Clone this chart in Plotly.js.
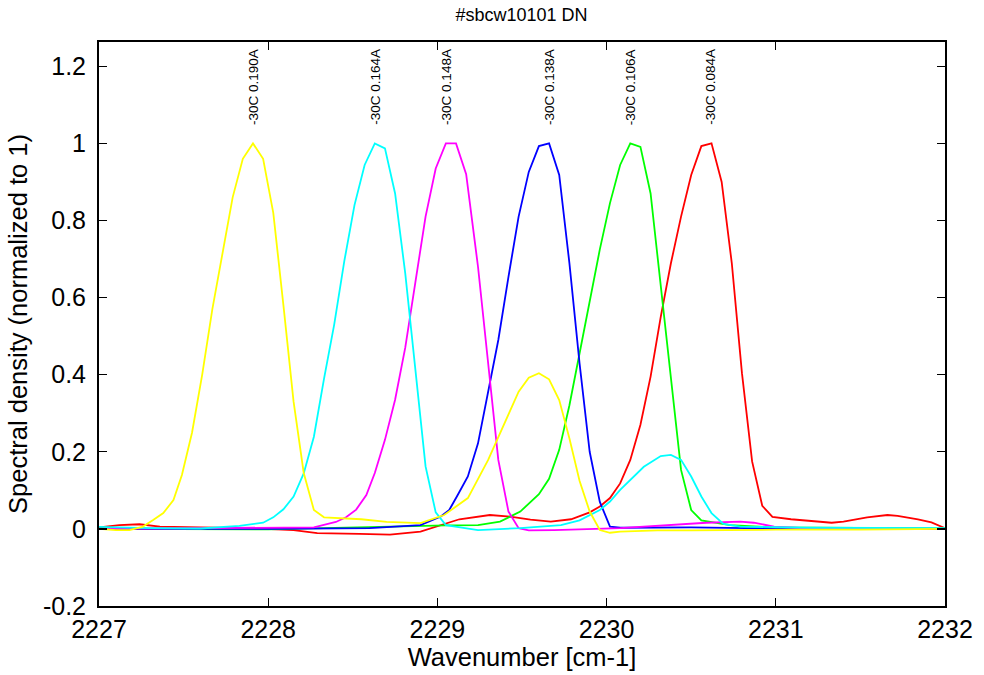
<!DOCTYPE html>
<html>
<head>
<meta charset="utf-8">
<script src="https://cdn.plot.ly/plotly-3.0.1.min.js"></script>
<style>html,body{margin:0;padding:0;background:#fff;}#chart{width:984px;height:675px;}</style>
</head>
<body>
<div id="chart"></div>
<script>
// Series data (wavenumber [cm-1], normalized spectral density)
const redX = [2227.00,2227.12,2227.24,2227.36,2227.60,2227.90,2228.15,2228.29,2228.54,2228.72,2228.90,2229.02,2229.13,2229.31,2229.43,2229.55,2229.67,2229.79,2229.90,2229.96,2230.02,2230.08,2230.14,2230.20,2230.26,2230.32,2230.38,2230.44,2230.50,2230.56,2230.62,2230.68,2230.74,2230.80,2230.86,2230.92,2230.98,2231.09,2231.23,2231.33,2231.40,2231.54,2231.66,2231.72,2231.84,2231.92,2232.00];
const redY = [0.004,0.010,0.012,0.006,0.004,0.002,-0.003,-0.011,-0.013,-0.015,-0.007,0.010,0.025,0.036,0.032,0.024,0.019,0.025,0.043,0.058,0.080,0.118,0.179,0.270,0.395,0.550,0.689,0.810,0.918,0.993,1.000,0.900,0.689,0.404,0.175,0.060,0.031,0.025,0.019,0.016,0.019,0.030,0.036,0.034,0.025,0.017,0.002];

const greenX = [2227.00,2228.00,2229.05,2229.24,2229.37,2229.49,2229.60,2229.66,2229.72,2229.78,2229.84,2229.90,2229.96,2230.02,2230.08,2230.14,2230.20,2230.26,2230.32,2230.38,2230.44,2230.50,2230.56,2230.73,2230.97,2232.00];
const greenY = [0.000,-0.001,0.009,0.010,0.019,0.045,0.090,0.130,0.205,0.320,0.455,0.590,0.725,0.845,0.944,1.000,0.991,0.870,0.628,0.378,0.153,0.049,0.022,0.010,0.004,0.001];

const blueX = [2227.00,2228.00,2228.60,2228.90,2229.02,2229.07,2229.12,2229.18,2229.24,2229.30,2229.36,2229.42,2229.48,2229.54,2229.60,2229.66,2229.72,2229.78,2229.84,2229.90,2229.96,2230.02,2230.08,2230.50,2231.00,2232.00];
const blueY = [0.000,0.000,0.002,0.010,0.032,0.049,0.088,0.136,0.222,0.352,0.490,0.654,0.810,0.926,0.993,1.000,0.918,0.690,0.430,0.200,0.070,0.006,0.003,0.004,0.001,0.000];

const magentaX = [2227.00,2227.60,2228.00,2228.27,2228.40,2228.46,2228.52,2228.58,2228.63,2228.69,2228.75,2228.81,2228.87,2228.93,2228.99,2229.05,2229.11,2229.17,2229.24,2229.30,2229.36,2229.42,2229.48,2229.54,2229.69,2230.08,2230.34,2230.59,2230.79,2230.87,2230.99,2231.20,2232.00];
const magentaY = [0.000,0.002,0.003,0.004,0.018,0.030,0.050,0.088,0.145,0.231,0.335,0.470,0.640,0.810,0.935,1.000,1.000,0.920,0.680,0.420,0.179,0.045,0.002,-0.004,-0.003,0.002,0.010,0.016,0.019,0.016,0.006,0.001,0.000];

const cyanX = [2227.00,2227.30,2227.60,2227.83,2227.97,2228.03,2228.09,2228.15,2228.21,2228.27,2228.33,2228.39,2228.45,2228.51,2228.57,2228.63,2228.69,2228.75,2228.81,2228.87,2228.93,2228.99,2229.05,2229.24,2229.49,2229.73,2229.84,2229.96,2230.02,2230.08,2230.14,2230.22,2230.32,2230.38,2230.44,2230.50,2230.56,2230.62,2230.69,2230.79,2231.20,2232.00];
const cyanY = [0.005,0.002,0.001,0.008,0.016,0.030,0.051,0.084,0.144,0.239,0.390,0.530,0.695,0.840,0.944,1.000,0.987,0.870,0.663,0.404,0.162,0.043,0.010,-0.003,0.002,0.010,0.022,0.049,0.071,0.101,0.127,0.161,0.189,0.192,0.179,0.136,0.084,0.041,0.013,0.006,0.003,0.002];

const yellowX = [2227.00,2227.10,2227.18,2227.26,2227.32,2227.38,2227.44,2227.49,2227.55,2227.61,2227.67,2227.73,2227.79,2227.85,2227.91,2227.97,2228.03,2228.09,2228.15,2228.21,2228.27,2228.33,2228.45,2228.55,2228.70,2228.90,2229.04,2229.18,2229.30,2229.42,2229.48,2229.54,2229.60,2229.66,2229.72,2229.78,2229.84,2229.90,2229.96,2230.02,2230.08,2230.30,2230.50,2231.00,2231.50,2232.00];
const yellowY = [0.000,-0.003,-0.003,0.006,0.023,0.041,0.075,0.140,0.250,0.400,0.570,0.720,0.860,0.960,1.000,0.960,0.820,0.580,0.330,0.145,0.049,0.030,0.028,0.025,0.018,0.015,0.036,0.080,0.179,0.300,0.356,0.392,0.404,0.388,0.334,0.235,0.125,0.045,-0.003,-0.010,-0.007,-0.004,-0.004,-0.002,-0.002,0.000];

// Peak labels
const labelText = ["-30C 0.190A","-30C 0.164A","-30C 0.148A","-30C 0.138A","-30C 0.106A","-30C 0.084A"];
const labelX = [2227.91,2228.63,2229.05,2229.66,2230.14,2230.61];

// Axis ticks
const xTickVals = [2227,2228,2229,2230,2231,2232];
const xTickText = ["2227","2228","2229","2230","2231","2232"];
const yTickVals = [-0.2,0,0.2,0.4,0.6,0.8,1,1.2];
const yTickText = ["-0.2","0","0.2","0.4","0.6","0.8","1","1.2"];

const FONT = "'Liberation Sans', Arial, Helvetica, sans-serif";
const LW = 1.8;
function tr(x, y, c){ return {x:x, y:y, type:'scatter', mode:'lines', line:{color:c, width:LW}, hoverinfo:'skip', showlegend:false}; }
const data = [
  tr(redX, redY, '#ff0000'),
  tr(greenX, greenY, '#00ff00'),
  tr(blueX, blueY, '#0000ff'),
  tr(magentaX, magentaY, '#ff00ff'),
  tr(cyanX, cyanY, '#00ffff'),
  tr(yellowX, yellowY, '#ffff00')
];

const annotations = labelText.map((t,i)=>({
  x: labelX[i], y: 1.045, xref:'x', yref:'y', text: t, showarrow:false,
  textangle:-90, xanchor:'center', yanchor:'bottom',
  font:{family:FONT, size:13.5, color:'#000'}, borderpad:0
}));

const axisCommon = {
  showgrid:false, zeroline:false, showline:true, linecolor:'#000', linewidth:2,
  mirror:'ticks', ticks:'inside', ticklen:8, tickwidth:1.2, tickcolor:'#000',
  tickfont:{family:FONT, size:25, color:'#000'}, tickmode:'array'
};

const layout = {
  width:984, height:675,
  paper_bgcolor:'#fff', plot_bgcolor:'#fff',
  margin:{l:99, r:39, t:42, b:69, pad:0},
  title:{text:'#sbcw10101 DN', font:{family:FONT, size:18, color:'#000'}, x:0.53, xanchor:'center', y:0.978, yanchor:'middle'},
  xaxis:Object.assign({}, axisCommon, {
    range:[2227,2232], tickvals:xTickVals, ticktext:xTickText, ticklabelstandoff:0,
    title:{text:'Wavenumber [cm-1]', font:{family:FONT, size:25.5, color:'#000'}, standoff:0}
  }),
  yaxis:Object.assign({}, axisCommon, {
    range:[-0.2,1.263], tickvals:yTickVals, ticktext:yTickText, ticklabelstandoff:6,
    title:{text:'Spectral density (normalized to 1)', font:{family:FONT, size:25.5, color:'#000'}, standoff:8}
  }),
  annotations: annotations
};

Plotly.newPlot('chart', data, layout, {displayModeBar:false, staticPlot:true});
</script>
</body>
</html>
